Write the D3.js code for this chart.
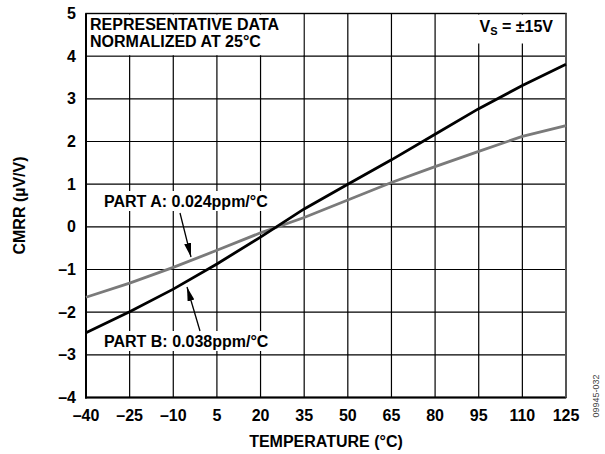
<!DOCTYPE html>
<html>
<head>
<meta charset="utf-8">
<script src="https://cdn.jsdelivr.net/npm/d3@7"></script>
<style>
  html, body { margin: 0; padding: 0; background: #fff; }
  svg { display: block; font-family: Arial, "Liberation Sans", Helvetica, sans-serif; }
</style>
</head>
<body>
<svg id="chart" width="605" height="454"></svg>
<script>
const temps = [-40, -25, -10, 5, 20, 35, 50, 65, 80, 95, 110, 125];
const partA = [-1.65, -1.32, -0.95, -0.55, -0.14, 0.22, 0.63, 1.04, 1.41, 1.77, 2.12, 2.37];
const partB = [-2.48, -1.99, -1.46, -0.87, -0.24, 0.42, 1.0, 1.57, 2.17, 2.77, 3.31, 3.81];
const xTicks = [-40, -25, -10, 5, 20, 35, 50, 65, 80, 95, 110, 125];
const xTickLabels = ["–40", "–25", "–10", "5", "20", "35", "50", "65", "80", "95", "110", "125"];
const yTicks = [-4, -3, -2, -1, 0, 1, 2, 3, 4, 5];
const yTickLabels = ["–4", "–3", "–2", "–1", "0", "1", "2", "3", "4", "5"];

const FS = 16;
const svg = d3.select("#chart");
const L = 86, R = 566, T = 13.5, B = 397.5;
const x = d3.scaleLinear().domain([-40, 125]).range([L, R]);
const y = d3.scaleLinear().domain([-4, 5]).range([B, T]);

const defs = svg.append("defs");
defs.append("marker").attr("id", "ah").attr("viewBox", "0 0 14 10")
  .attr("refX", 14).attr("refY", 5).attr("markerWidth", 14).attr("markerHeight", 10)
  .attr("markerUnits", "userSpaceOnUse").attr("orient", "auto")
  .append("path").attr("d", "M0,1.5 L14,5 L0,8.5 Z").attr("fill", "#000");

// grid
const g = svg.append("g");
g.selectAll(".vg").data(xTicks).join("line")
  .attr("x1", d => x(d)).attr("x2", d => x(d)).attr("y1", T).attr("y2", B)
  .attr("stroke", "#000").attr("stroke-width", 1.2);
g.selectAll(".hg").data(yTicks).join("line")
  .attr("x1", L).attr("x2", R).attr("y1", d => y(d)).attr("y2", d => y(d))
  .attr("stroke", "#000").attr("stroke-width", 1.2);

// white boxes covering grid
svg.append("rect").attr("x", L + 1).attr("y", T + 1).attr("width", x(35) - L - 2).attr("height", y(4) - T - 2).attr("fill", "#fff");
svg.append("rect").attr("x", 470).attr("y", T + 1).attr("width", 92).attr("height", 29).attr("fill", "#fff");
svg.append("rect").attr("x", 100).attr("y", 191).attr("width", 176).attr("height", 20).attr("fill", "#fff");
svg.append("rect").attr("x", 100).attr("y", 331).attr("width", 176).attr("height", 20).attr("fill", "#fff");

// axes frame
svg.append("rect").attr("x", L).attr("y", T).attr("width", R - L).attr("height", B - T)
  .attr("fill", "none").attr("stroke", "#000").attr("stroke-width", 1.4);
svg.append("line").attr("x1", L).attr("x2", L).attr("y1", T).attr("y2", B + 1).attr("stroke", "#000").attr("stroke-width", 2);
svg.append("line").attr("x1", L - 1).attr("x2", R).attr("y1", B).attr("y2", B).attr("stroke", "#000").attr("stroke-width", 2);
svg.append("line").attr("x1", R).attr("x2", R).attr("y1", T).attr("y2", B).attr("stroke", "#555").attr("stroke-width", 2);

// lines
const line = d3.line().x(d => x(d[0])).y(d => y(d[1]));
svg.append("path").datum(temps.map((t, i) => [t, partA[i]])).attr("d", line)
  .attr("fill", "none").attr("stroke", "#7a7a7a").attr("stroke-width", 2.8);
svg.append("path").datum(temps.map((t, i) => [t, partB[i]])).attr("d", line)
  .attr("fill", "none").attr("stroke", "#000").attr("stroke-width", 2.8);

// tick labels
svg.selectAll(".xl").data(xTicks).join("text")
  .attr("x", d => x(d)).attr("y", 421).attr("text-anchor", "middle")
  .attr("font-size", FS).attr("font-weight", "bold").text((d, i) => xTickLabels[i]);
svg.selectAll(".yl").data(yTicks).join("text")
  .attr("x", 76).attr("y", d => y(d) + 5.5).attr("text-anchor", "end")
  .attr("font-size", FS).attr("font-weight", "bold").text((d, i) => yTickLabels[i]);

// titles
svg.append("text").attr("x", (L + R) / 2).attr("y", 447).attr("text-anchor", "middle")
  .attr("font-size", FS).attr("font-weight", "bold").text("TEMPERATURE (°C)");
svg.append("text").attr("transform", `translate(25,${(T + B) / 2}) rotate(-90)`).attr("text-anchor", "middle")
  .attr("font-size", FS).attr("font-weight", "bold").text("CMRR (µV/V)");

// annotations
const ann = svg.append("g").attr("font-size", FS).attr("font-weight", "bold");
ann.append("text").attr("x", 90).attr("y", 30).text("REPRESENTATIVE DATA");
ann.append("text").attr("x", 90).attr("y", 46.5).text("NORMALIZED AT 25°C");
const vs = ann.append("text").attr("x", 553).attr("y", 32).attr("text-anchor", "end");
vs.append("tspan").text("V");
vs.append("tspan").attr("font-size", 11).attr("dy", 3).text("S");
vs.append("tspan").attr("dy", -3).text(" = ±15V");
ann.append("text").attr("x", 104).attr("y", 206.5).text("PART A: 0.024ppm/°C");
ann.append("text").attr("x", 104).attr("y", 346.5).text("PART B: 0.038ppm/°C");

svg.append("line").attr("x1", 180).attr("y1", 213).attr("x2", 191).attr("y2", 257)
  .attr("stroke", "#000").attr("stroke-width", 1.3).attr("marker-end", "url(#ah)");
svg.append("line").attr("x1", 200).attr("y1", 331).attr("x2", 187).attr("y2", 287)
  .attr("stroke", "#000").attr("stroke-width", 1.3).attr("marker-end", "url(#ah)");

// stamp
svg.append("text").attr("transform", "translate(599,396) rotate(-90)").attr("text-anchor", "middle")
  .attr("font-size", 9).attr("fill", "#444").text("09945-032");
</script>
</body>
</html>
